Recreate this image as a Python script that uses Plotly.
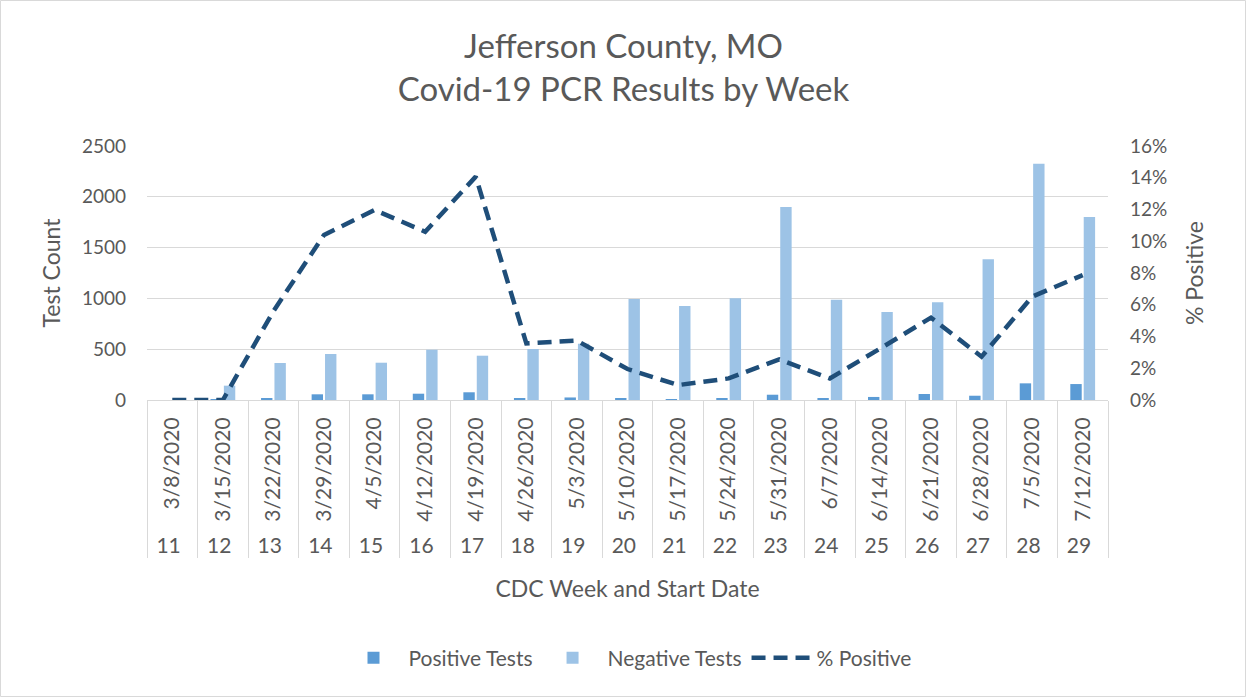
import plotly.graph_objects as go

weeks = ["11", "12", "13", "14", "15", "16", "17", "18", "19", "20",
         "21", "22", "23", "24", "25", "26", "27", "28", "29"]
dates = ["3/8/2020", "3/15/2020", "3/22/2020", "3/29/2020", "4/5/2020", "4/12/2020",
         "4/19/2020", "4/26/2020", "5/3/2020", "5/10/2020", "5/17/2020", "5/24/2020",
         "5/31/2020", "6/7/2020", "6/14/2020", "6/21/2020", "6/28/2020", "7/5/2020",
         "7/12/2020"]
positive_tests = [0, 2, 20, 56, 56, 62, 76, 20, 25, 20, 6, 10, 52, 10, 30, 59, 42, 164, 157]
negative_tests = [0, 141, 364, 453, 367, 495, 436, 502, 554, 994, 925, 1001, 1900, 987,
                  866, 962, 1385, 2326, 1801]
pct_positive = [0.0, 0.0, 0.056, 0.104, 0.1197, 0.106, 0.1407, 0.0357, 0.0374, 0.0195,
                0.0094, 0.0136, 0.0256, 0.0136, 0.0325, 0.0519, 0.0273, 0.0651, 0.0787]

x = [weeks, dates]
font_family = "Lato, 'Open Sans', sans-serif"
grey = "#595959"

fig = go.Figure()
fig.add_trace(go.Bar(x=x, y=positive_tests, name="Positive Tests",
                     marker=dict(color="#5B9BD5", line=dict(width=0))))
fig.add_trace(go.Bar(x=x, y=negative_tests, name="Negative Tests",
                     marker=dict(color="#9DC3E6", line=dict(width=0))))
fig.add_trace(go.Scatter(x=x, y=pct_positive, name="% Positive", yaxis="y2",
                         mode="lines",
                         line=dict(color="#1F4E79", width=4.5, dash="14px,8px")))

W, H = 1247, 698
ml, mr, mt, mb = 147, 139, 146, 298
pw, ph = W - ml - mr, H - mt - mb

fig.update_layout(
    width=W, height=H,
    margin=dict(l=ml, r=mr, t=mt, b=mb),
    paper_bgcolor="white", plot_bgcolor="white",
    font=dict(family=font_family, color=grey, size=18),
    title=dict(text="Jefferson County, MO<br>Covid-19 PCR Results by Week",
               x=0.5, xanchor="center", y=1 - 58 / H, yanchor="middle",
               font=dict(size=33, color=grey, family=font_family)),
    barmode="group", bargap=0.47, bargroupgap=0.15,
    showlegend=True,
    legend=dict(orientation="h", x=0.5, xanchor="center", y=-(658 - 400) / ph,
                yanchor="middle", itemwidth=60,
                font=dict(size=21, color=grey), traceorder="normal"),
    xaxis=dict(type="multicategory", tickangle=-90, showline=True, linecolor="#D9D9D9",
               linewidth=1, showdividers=True, dividercolor="#D9D9D9", dividerwidth=1,
               ticklabelstandoff=8,
               tickfont=dict(size=21, color=grey),
               title=dict(text="CDC Week and Start Date", font=dict(size=23, color=grey),
                          standoff=24)),
    yaxis=dict(range=[0, 2500], dtick=500, showgrid=True, gridcolor="#D9D9D9",
               zeroline=False, showline=False, ticks="", ticklabelstandoff=20,
               tickfont=dict(size=19, color=grey),
               title=dict(text="Test Count", font=dict(size=23, color=grey), standoff=14)),
    yaxis2=dict(range=[0, 0.16], dtick=0.02, tickformat=".0%", overlaying="y", side="right",
                showgrid=False, zeroline=False, showline=False, ticks="",
                ticklabelstandoff=21,
                tickfont=dict(size=19, color=grey),
                title=dict(text="% Positive", font=dict(size=23, color=grey), standoff=20)),
)

# outer chart border
fig.add_shape(type="rect", xref="paper", yref="paper",
              x0=-(ml - 0.5) / pw, x1=1 + (mr - 1.5) / pw,
              y0=-(mb - 1.5) / ph, y1=1 + (mt - 0.5) / ph,
              line=dict(color="#D9D9D9", width=1), layer="below")

fig.write_html("out.html", config={"displayModeBar": False},
               post_script="document.body.style.margin='0';document.body.style.overflow='hidden';")
